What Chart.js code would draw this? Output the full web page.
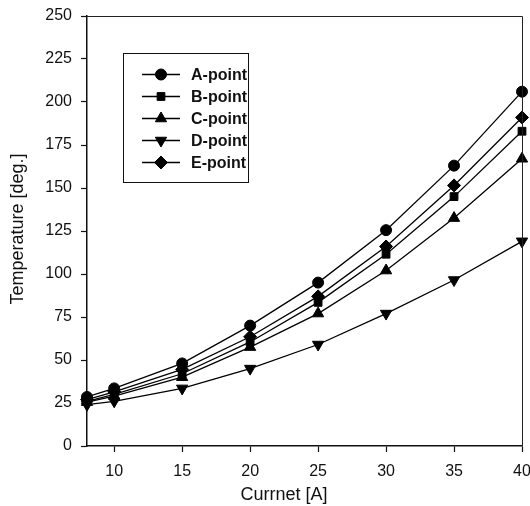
<!DOCTYPE html>
<html>
<head>
<meta charset="utf-8">
<script src="https://cdn.jsdelivr.net/npm/chart.js@4/dist/chart.umd.min.js"></script>
<style>
html,body{margin:0;padding:0;background:#fff;}
#wrap{width:530px;height:506px;position:relative;}
</style>
</head>
<body>
<div id="wrap"><canvas id="c" width="530" height="506"></canvas></div>
<script>
const currents = [8, 10, 15, 20, 25, 30, 35, 40];
const aPoint = [28.5, 33.5, 48, 70, 95, 125.5, 163, 206];
const bPoint = [26, 30, 42, 60.5, 83.5, 111.5, 145, 183];
const cPoint = [25.5, 29, 40, 57.5, 77, 102, 132.5, 167];
const dPoint = [24, 26, 33.5, 45, 59, 77, 96.5, 119];
const ePoint = [27, 31.5, 44.5, 63.5, 87, 116, 151.5, 191];
const seriesNames = ['A-point', 'B-point', 'C-point', 'D-point', 'E-point'];
const xTicks = [10, 15, 20, 25, 30, 35, 40];
const yTicks = [0, 25, 50, 75, 100, 125, 150, 175, 200, 225, 250];
const xTitle = 'Currnet [A]';
const yTitle = 'Temperature [deg.]';

const FONT = '"Liberation Sans", Arial, sans-serif';
const styles = [
  {pointStyle: 'circle', radius: 5.5, rotation: 0},
  {pointStyle: 'rect', radius: 5.5, rotation: 0},
  {pointStyle: 'triangle', radius: 6.5, rotation: 0},
  {pointStyle: 'triangle', radius: 6.5, rotation: 180},
  {pointStyle: 'rectRot', radius: 6.5, rotation: 0}
];
const allSeries = [aPoint, bPoint, cPoint, dPoint, ePoint];

const datasets = allSeries.map((vals, i) => ({
  label: seriesNames[i],
  data: currents.map((x, j) => ({x: x, y: vals[j]})),
  borderColor: '#000',
  backgroundColor: '#000',
  borderWidth: 1.3,
  pointStyle: styles[i].pointStyle,
  pointRadius: styles[i].radius,
  pointRotation: styles[i].rotation,
  pointBackgroundColor: '#000',
  pointBorderColor: '#000',
  pointBorderWidth: 1,
  tension: 0,
  clip: false
}));

const frameAndText = {
  id: 'frameAndText',
  afterDraw(chart) {
    const ctx = chart.ctx;
    const a = chart.chartArea;
    ctx.save();
    // top & right frame
    ctx.strokeStyle = '#222';
    ctx.lineWidth = 1;
    ctx.beginPath();
    ctx.moveTo(a.left, a.top + 0.5);
    ctx.lineTo(a.right + 0.5, a.top + 0.5);
    ctx.lineTo(a.right + 0.5, a.bottom);
    ctx.stroke();
    // axis titles
    ctx.fillStyle = '#111';
    ctx.font = '18px ' + FONT;
    ctx.textAlign = 'center';
    ctx.textBaseline = 'middle';
    ctx.fillText(xTitle, 284, 495);
    ctx.translate(18, 229);
    ctx.rotate(-Math.PI / 2);
    ctx.fillText(yTitle, 0, 0);
    ctx.restore();

    // legend
    ctx.save();
    const lx = a.left + 36, ly = a.top + 37, lw = 125, lh = 129;
    ctx.strokeStyle = '#111';
    ctx.lineWidth = 1;
    ctx.strokeRect(lx + 0.5, ly + 0.5, lw, lh);
    chart.data.datasets.forEach((ds, i) => {
      const y = ly + 21.5 + i * 22;
      ctx.strokeStyle = '#000';
      ctx.lineWidth = 1.3;
      ctx.beginPath();
      ctx.moveTo(lx + 19, y);
      ctx.lineTo(lx + 57, y);
      ctx.stroke();
      ctx.fillStyle = '#000';
      ctx.strokeStyle = '#000';
      ctx.lineWidth = 1;
      Chart.helpers.drawPoint(ctx, {
        pointStyle: ds.pointStyle,
        radius: ds.pointRadius,
        rotation: ds.pointRotation,
        borderWidth: 1
      }, lx + 38, y);
      ctx.fillStyle = '#111';
      ctx.font = 'bold 16px ' + FONT;
      ctx.textAlign = 'left';
      ctx.textBaseline = 'middle';
      ctx.fillText(ds.label, lx + 68, y + 1);
    });
    ctx.restore();
  }
};

new Chart(document.getElementById('c'), {
  type: 'line',
  data: {datasets: datasets},
  plugins: [frameAndText],
  options: {
    responsive: false,
    animation: false,
    layout: {padding: {top: 16, right: 8, left: 0, bottom: 0}},
    plugins: {legend: {display: false}, tooltip: {enabled: false}},
    scales: {
      x: {
        type: 'linear',
        min: 8,
        max: 40,
        afterBuildTicks(s) { s.ticks = xTicks.map(v => ({value: v})); },
        afterFit(s) { s.height = 60; s.paddingLeft = 0; s.paddingRight = 0; },
        grid: {drawOnChartArea: false, drawTicks: true, tickLength: 6, color: '#111', tickWidth: 1.2},
        border: {display: true, color: '#111', width: 1.5},
        ticks: {color: '#111', padding: 10, maxRotation: 0, font: {size: 16, family: FONT}}
      },
      y: {
        type: 'linear',
        min: 0,
        max: 250,
        afterBuildTicks(s) { s.ticks = yTicks.map(v => ({value: v})); },
        afterFit(s) { s.width = 87; s.paddingTop = 0; s.paddingBottom = 0; },
        grid: {drawOnChartArea: false, drawTicks: true, tickLength: 6, color: '#111', tickWidth: 1.2},
        border: {display: true, color: '#111', width: 1.5},
        ticks: {color: '#111', padding: 9, font: {size: 16, family: FONT}}
      }
    }
  }
});
</script>
</body>
</html>
